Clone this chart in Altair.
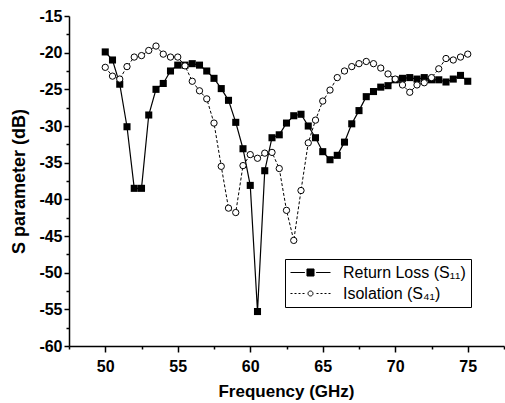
import altair as alt
import pandas as pd

freq = [50.0 + 0.5 * i for i in range(51)]

return_loss = [
    -19.9, -21.0, -24.3, -30.1, -38.5, -38.5, -28.5, -25.0, -24.2, -22.5,
    -21.7, -21.7, -21.5, -21.7, -22.5, -23.5, -24.9, -26.5, -29.5, -33.1,
    -38.1, -55.3, -36.1, -31.6, -31.2, -29.6, -28.6, -28.4, -30.0, -31.6,
    -33.5, -34.6, -34.0, -32.2, -29.7, -27.9, -26.0, -25.3, -24.7, -24.5,
    -23.7, -23.5, -23.4, -23.6, -23.4, -23.7, -23.7, -24.0, -23.6, -23.1,
    -23.9,
]

isolation = [
    -22.0, -23.2, -23.6, -21.9, -20.6, -20.4, -19.7, -19.1, -20.2, -20.6,
    -20.6, -21.8, -23.9, -25.2, -26.3, -29.6, -35.5, -41.2, -41.8, -35.4,
    -33.9, -34.4, -33.7, -33.6, -35.8, -41.5, -45.6, -38.8, -32.3, -29.2,
    -26.6, -25.1, -23.4, -22.5, -21.9, -21.5, -21.2, -21.5, -22.1, -22.9,
    -23.6, -24.4, -25.4, -24.4, -24.1, -23.4, -22.2, -20.8, -21.0, -20.6,
    -20.2,
]

series_names = ["Return Loss (S\u2081\u2081)", "Isolation (S\u2084\u2081)"]

x_ticks = [47.5 + 2.5 * i for i in range(13)]
y_ticks = [-60 + 2.5 * i for i in range(19)]

df = pd.DataFrame(
    {
        "f": freq * 2,
        "v": return_loss + isolation,
        "series": [series_names[0]] * len(freq) + [series_names[1]] * len(freq),
    }
)

FONT = "Liberation Sans"
LABEL_EXPR = "datum.value % 5 === 0 ? '' + datum.value : ''"

x_enc = alt.X(
    "f:Q",
    scale=alt.Scale(domain=[47.5, 77.5], nice=False, zero=False),
    axis=alt.Axis(
        title="Frequency (GHz)",
        values=x_ticks,
        labelExpr=LABEL_EXPR,
        tickSize={"condition": {"test": "datum.value % 5 === 0", "value": 6}, "value": 3},
        labelOverlap=False,
        labelFlush=False,
        labelPadding=6,
        titleX=217,
        titleY=50,
        titleAlign="center",
        titleBaseline="alphabetic",
    ),
)
y_enc = alt.Y(
    "v:Q",
    scale=alt.Scale(domain=[-60, -15], nice=False, zero=False),
    axis=alt.Axis(
        title="S parameter (dB)",
        values=y_ticks,
        labelExpr=LABEL_EXPR,
        tickSize={"condition": {"test": "datum.value % 5 === 0", "value": 5}, "value": 3},
        labelOverlap=False,
        labelFlush=False,
        labelPadding=2,
        titleX=-45,
        titleY=165,
        titleAngle=270,
        titleAlign="center",
        titleBaseline="alphabetic",
        titleFontSize=18,
    ),
)

base = alt.Chart(df)

line_rl = base.transform_filter(alt.datum.series == series_names[0]).mark_line(
    color="black", strokeWidth=1.2
).encode(x=x_enc, y=y_enc)

line_iso = base.transform_filter(alt.datum.series == series_names[1]).mark_line(
    color="black", strokeWidth=1, strokeDash=[3, 2]
).encode(x=x_enc, y=y_enc)

pts_rl = base.transform_filter(alt.datum.series == series_names[0]).mark_square(
    color="black", size=50, opacity=1
).encode(x=x_enc, y=y_enc)

pts_iso = base.transform_filter(alt.datum.series == series_names[1]).mark_point(
    shape="circle", filled=True, fill="white", stroke="black", strokeWidth=1, size=40, opacity=1
).encode(x=x_enc, y=y_enc)

# legend symbols: line + marker glyphs (custom paths)
path_rl = "M-1,0H0.8M1.06,-0.44H1.94V0.44H1.06ZM2.2,0H4"
path_iso = (
    "M-1,0H-0.75M-0.5,0H-0.25M0,0H0.25M0.5,0H0.75"
    "M1.81,0A0.31,0.31,0,1,1,1.19,0A0.31,0.31,0,1,1,1.81,0Z"
    "M2.25,0H2.5M2.75,0H3M3.25,0H3.5M3.75,0H4"
)

legend_layer = base.transform_filter("false").mark_point(
    strokeWidth=1, opacity=1, filled=False
).encode(
    x=x_enc,
    y=y_enc,
    shape=alt.Shape(
        "series:N",
        scale=alt.Scale(domain=series_names, range=[path_rl, path_iso]),
        legend=alt.Legend(
            title=None,
            orient="none",
            legendX=216,
            legendY=243,
            symbolSize=256,
            symbolStrokeWidth=1,
            labelOffset=36,
            labelFont=FONT,
            labelFontSize=16,
            labelColor="black",
            padding=5,
            rowPadding=4,
            strokeColor="black",
            fillColor="white",
            cornerRadius=0,
        ),
    ),
    fill=alt.Fill(
        "series:N",
        scale=alt.Scale(domain=series_names, range=["black", "white"]),
        legend=alt.Legend(title=None),
    ),
    stroke=alt.Stroke(
        "series:N",
        scale=alt.Scale(domain=series_names, range=["black", "black"]),
        legend=alt.Legend(title=None),
    ),
)

chart = (
    alt.layer(line_rl, line_iso, pts_rl, pts_iso, legend_layer)
    .properties(
        width=435,
        height=330,
        autosize=alt.AutoSizeParams(type="none"),
        padding={"left": 69, "top": 16, "right": 1, "bottom": 57},
        background="white",
    )
    .configure_view(stroke=None)
    .configure_axis(
        domainColor="black",
        domainWidth=1.5,
        tickColor="black",
        tickWidth=1.5,
        grid=False,
        labelFont=FONT,
        labelFontSize=16,
        labelFontWeight="bold",
        labelColor="black",
        titleFont=FONT,
        titleFontSize=17,
        titleFontWeight="bold",
        titleColor="black",
    )
)

chart.save("out.html", embed_options={"renderer": "svg", "actions": False})
